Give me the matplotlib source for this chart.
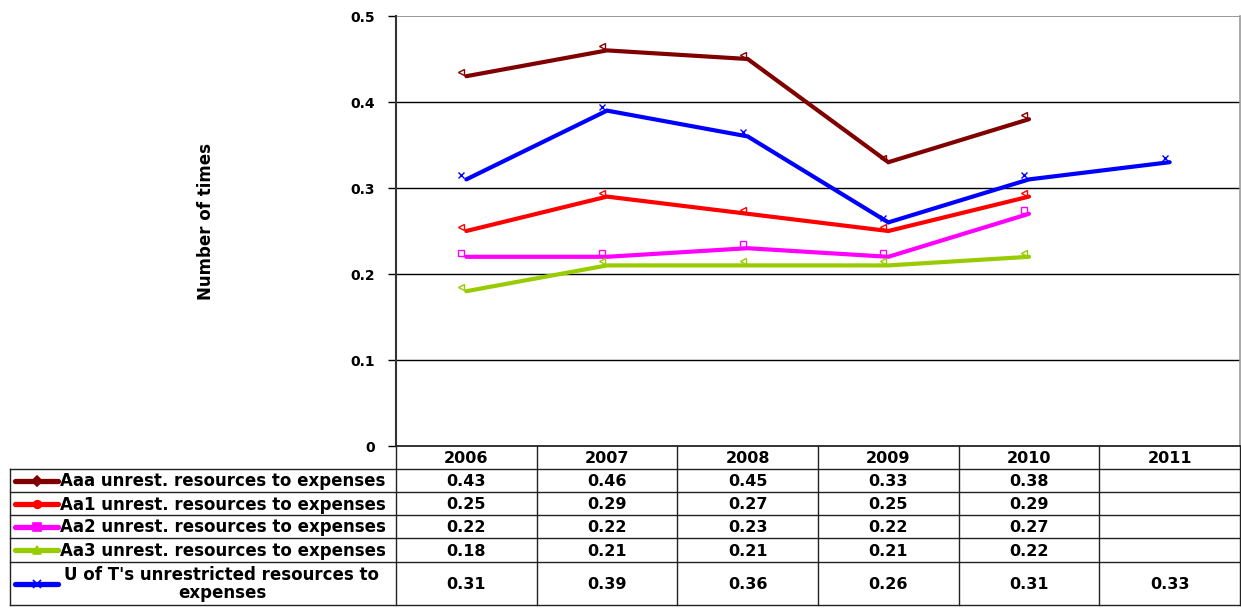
import matplotlib
matplotlib.use("Agg")
import matplotlib.pyplot as plt
import matplotlib.transforms as mtransforms
import numpy as np

plt.rcParams['font.family'] = ['DejaVu Sans']

years = ["2006", "2007", "2008", "2009", "2010", "2011"]
series_names = [
    "Aaa unrest. resources to expenses",
    "Aa1 unrest. resources to expenses",
    "Aa2 unrest. resources to expenses",
    "Aa3 unrest. resources to expenses",
    "U of T's unrestricted resources to\nexpenses",
]
aaa = [0.43, 0.46, 0.45, 0.33, 0.38, None]
aa1 = [0.25, 0.29, 0.27, 0.25, 0.29, None]
aa2 = [0.22, 0.22, 0.23, 0.22, 0.27, None]
aa3 = [0.18, 0.21, 0.21, 0.21, 0.22, None]
uoft = [0.31, 0.39, 0.36, 0.26, 0.31, 0.33]
all_series = [aaa, aa1, aa2, aa3, uoft]
colors = ["#800000", "#FF0000", "#FF00FF", "#99CC00", "#0000FF"]
plot_markers = ["<", "<", "s", "<", "x"]
legend_markers = ["D", "o", "s", "^", "x"]
yticks = [0, 0.1, 0.2, 0.3, 0.4, 0.5]

W, H = 1241, 613
fig = plt.figure(figsize=(W / 100, H / 100), dpi=100)

x0, x1 = 396, 1240
ytop, ybot = 16, 446
ax = fig.add_axes([x0 / W, 1 - ybot / H, (x1 - x0) / W, (ybot - ytop) / H])
n = len(years)
ax.set_xlim(0, n)
ax.set_ylim(0, 0.5)
xs = np.arange(n) + 0.5

for yv in yticks[1:-1]:
    ax.axhline(yv, color="black", lw=1.0, zorder=1)
ax.axhline(0.5, color="#888888", lw=1.2, zorder=1)

mk_off = mtransforms.offset_copy(ax.transData, fig=fig, x=-5, y=4, units='dots')
for vals, c, m in zip(all_series, colors, plot_markers):
    px = [x for x, v in zip(xs, vals) if v is not None]
    py = [v for v in vals if v is not None]
    ax.plot(px, py, color=c, lw=3.0, solid_joinstyle='miter', solid_capstyle='round', zorder=3)
    ax.plot(px, py, linestyle='none', marker=m, markersize=4, markerfacecolor='none',
            markeredgecolor=c, markeredgewidth=1.0, transform=mk_off, zorder=4)

ax.set_yticks(yticks)
ax.set_yticklabels(["0", "0.1", "0.2", "0.3", "0.4", "0.5"], fontsize=10, fontweight='bold')
ax.tick_params(axis='y', length=6, width=1, direction='out', pad=9)
ax.set_xticks([])
for s in ["top", "bottom"]:
    ax.spines[s].set_visible(False)
ax.spines["right"].set_color("#999999")
ax.spines["right"].set_linewidth(1.2)
ax.spines["left"].set_linewidth(1.5)
ax.spines["left"].set_color("#333333")

fig.text(206 / W, 1 - 222 / H, "Number of times", rotation=90, ha='center', va='center',
         fontsize=12, fontweight='bold')

# ---- data table ----
def fx(px):
    return px / W

def fy(py):
    return 1 - py / H

row_bounds = [446, 469, 492, 515, 538, 562, 605]
col_bounds = [x0 + i * (x1 - x0) / n for i in range(n + 1)]
tleft = 10
lc = "#222222"

fig.add_artist(plt.Line2D([fx(x0), fx(x1)], [fy(446), fy(446)], color=lc, lw=1.3))
for rb in row_bounds[1:]:
    fig.add_artist(plt.Line2D([fx(tleft), fx(x1)], [fy(rb), fy(rb)], color=lc, lw=1.0))
fig.add_artist(plt.Line2D([fx(tleft), fx(tleft)], [fy(469), fy(605)], color=lc, lw=1.0))
for i, cb in enumerate(col_bounds):
    fig.add_artist(plt.Line2D([fx(cb), fx(cb)], [fy(446), fy(605)], color=lc, lw=1.0))

for i, yr in enumerate(years):
    cx = (col_bounds[i] + col_bounds[i + 1]) / 2
    fig.text(fx(cx), fy((row_bounds[0] + row_bounds[1]) / 2 + 1), yr, ha='center', va='center',
             fontsize=11.5, fontweight='bold')

for r, (name, vals, c, lm) in enumerate(zip(series_names, all_series, colors, legend_markers)):
    yc = (row_bounds[r + 1] + row_bounds[r + 2]) / 2 + 1
    fig.add_artist(plt.Line2D([fx(15), fx(58)], [fy(yc - 1), fy(yc - 1)], color=c, lw=3.8,
                              solid_capstyle='round'))
    fig.add_artist(plt.Line2D([fx(37)], [fy(yc - 1)], color=c, lw=0, marker=lm,
                              markersize=5.5 if lm != 'x' else 6, markerfacecolor=c,
                              markeredgecolor=c, markeredgewidth=1.2))
    if "\n" in name:
        fig.text(fx(222), fy(yc), name, ha='center', va='center', fontsize=12,
                 fontweight='bold', linespacing=1.0, multialignment='center')
    else:
        fig.text(fx(60), fy(yc), name, ha='left', va='center', fontsize=12, fontweight='bold')
    for i, v in enumerate(vals):
        if v is None:
            continue
        cx = (col_bounds[i] + col_bounds[i + 1]) / 2
        fig.text(fx(cx), fy(yc), f"{v:.2f}", ha='center', va='center', fontsize=11.5,
                 fontweight='bold')

fig.savefig("out.png", dpi=100)
